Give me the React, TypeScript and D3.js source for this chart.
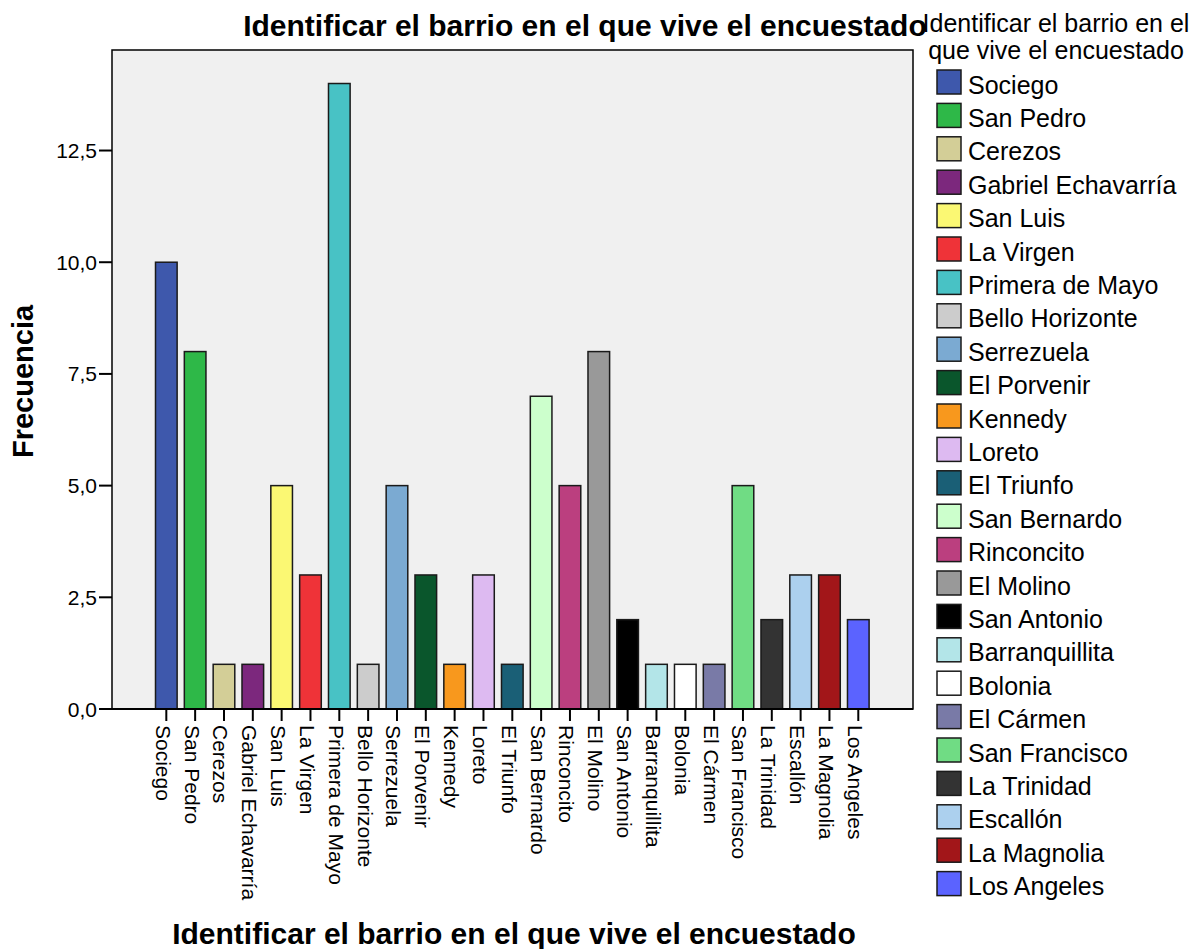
import React from "react";
import * as d3 from "d3";

const categories = [
  "Sociego", "San Pedro", "Cerezos", "Gabriel Echavarría", "San Luis", "La Virgen",
  "Primera de Mayo", "Bello Horizonte", "Serrezuela", "El Porvenir", "Kennedy", "Loreto",
  "El Triunfo", "San Bernardo", "Rinconcito", "El Molino", "San Antonio", "Barranquillita",
  "Bolonia", "El Cármen", "San Francisco", "La Trinidad", "Escallón", "La Magnolia", "Los Angeles",
];
const values = [10, 8, 1, 1, 5, 3, 14, 1, 5, 3, 1, 3, 1, 7, 5, 8, 2, 1, 1, 1, 5, 2, 3, 3, 2];
const colors = [
  "#3E58AC", "#2EB848", "#D3CE97", "#7C287D", "#FBF873", "#EF3338",
  "#48C2C5", "#CCCCCC", "#7BAAD2", "#0A562C", "#F8981D", "#DDBAF1",
  "#1A5F76", "#CCFFCC", "#BB3F7F", "#999999", "#000000", "#B3E5E8",
  "#FFFFFF", "#797AA7", "#70DC84", "#333333", "#ACD0EE", "#A21619", "#5B63FF",
];
const yTicks = [0, 2.5, 5, 7.5, 10, 12.5];
const titleText = "Identificar el barrio en el que vive el encuestado";
const yTitle = "Frecuencia";
const legendTitle = ["Identificar el barrio en el", "que vive el encuestado"];

const W = 1196;
const H = 949;
const plot = { left: 112, right: 913, top: 50, bottom: 709 };
const font = "'Liberation Sans', Arial, Helvetica, sans-serif";

export default function App() {
  const x = d3
    .scaleBand<string>()
    .domain(categories)
    .range([155.5, 869.1])
    .paddingInner(0.25)
    .paddingOuter(0);
  const y = d3.scaleLinear().domain([0, 14.75]).range([plot.bottom, plot.top]);
  const fmt = (v: number) => v.toFixed(1).replace(".", ",");

  return (
    <svg
      width={W}
      height={H}
      style={{ position: "absolute", left: 0, top: 0, background: "#fff" }}
      fontFamily={font}
    >
      <rect x={0} y={0} width={W} height={H} fill="#fff" />
      <rect
        x={plot.left}
        y={plot.top}
        width={plot.right - plot.left}
        height={plot.bottom - plot.top}
        fill="#F0F0F0"
        stroke="#000"
        strokeWidth={1.5}
      />
      {categories.map((c, i) => (
        <rect
          key={c}
          x={x(c)!}
          y={y(values[i])}
          width={x.bandwidth()}
          height={y(0) - y(values[i])}
          fill={colors[i]}
          stroke="#1a1a1a"
          strokeWidth={1.5}
        />
      ))}
      <line x1={plot.left} x2={plot.right} y1={plot.bottom} y2={plot.bottom} stroke="#000" strokeWidth={2} />
      {yTicks.map((t) => (
        <g key={t}>
          <line x1={plot.left - 13} x2={plot.left} y1={y(t)} y2={y(t)} stroke="#000" strokeWidth={2} />
          <text x={plot.left - 15} y={y(t)} dy="0.36em" textAnchor="end" fontSize={21} fill="#000">
            {fmt(t)}
          </text>
        </g>
      ))}
      {categories.map((c) => {
        const cx = x(c)! + x.bandwidth() / 2;
        return (
          <g key={c}>
            <line x1={cx} x2={cx} y1={plot.bottom} y2={plot.bottom + 12} stroke="#000" strokeWidth={2} />
            <text
              transform={`translate(${cx},${plot.bottom + 16}) rotate(90)`}
              dy="0.5em"
              textAnchor="start"
              fontSize={21}
              fill="#000"
            >
              {c}
            </text>
          </g>
        );
      })}
      <text x={585} y={36} textAnchor="middle" fontSize={30} fontWeight="bold" fill="#000">
        {titleText}
      </text>
      <text x={514} y={944} textAnchor="middle" fontSize={30} fontWeight="bold" fill="#000">
        {titleText}
      </text>
      <text
        transform={`translate(33,${(plot.top + plot.bottom) / 2 + 2}) rotate(-90)`}
        textAnchor="middle"
        fontSize={29}
        fontWeight="bold"
        fill="#000"
      >
        {yTitle}
      </text>
      {legendTitle.map((l, i) => (
        <text key={l} x={1056} y={32 + i * 27} textAnchor="middle" fontSize={25} fill="#000">
          {l}
        </text>
      ))}
      {categories.map((c, i) => {
        const ly = 70 + i * 33.4;
        return (
          <g key={c}>
            <rect x={937} y={ly} width={24} height={24} fill={colors[i]} stroke="#1a1a1a" strokeWidth={1.5} />
            <text x={968} y={ly + 23.5} fontSize={25} fill="#000">
              {c}
            </text>
          </g>
        );
      })}
    </svg>
  );
}
